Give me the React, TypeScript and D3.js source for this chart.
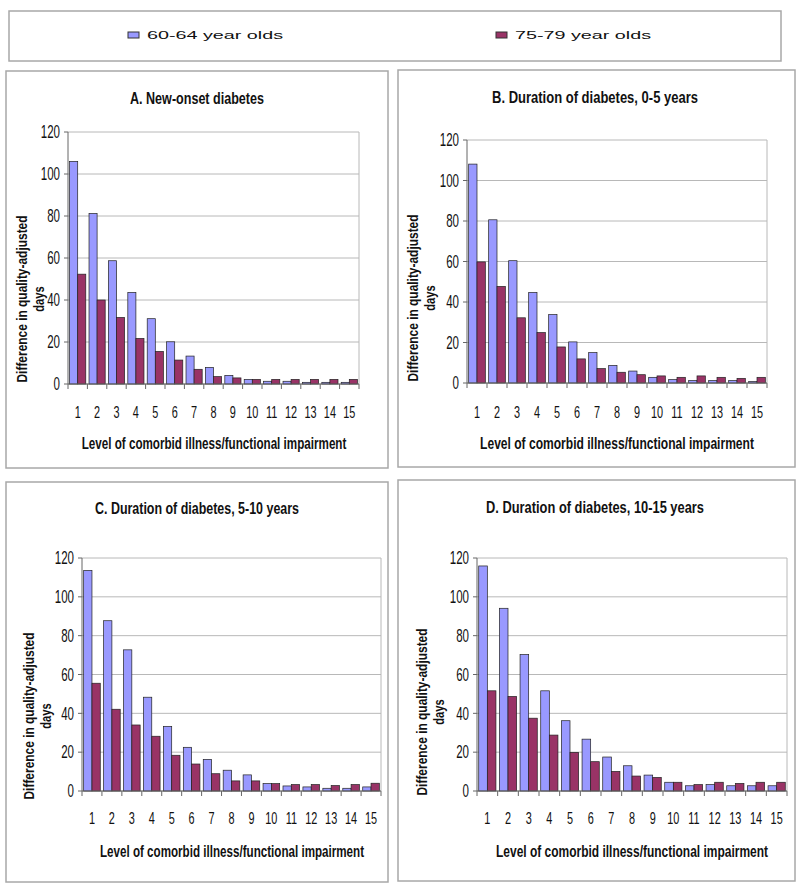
import React, { useLayoutEffect, useRef, useState } from "react";
import * as d3 from "d3";

const levels = ["1","2","3","4","5","6","7","8","9","10","11","12","13","14","15"];
const seriesNames = ["60-64 year olds", "75-79 year olds"];
const yTicks = [0, 20, 40, 60, 80, 100, 120];

const titleA = "A. New-onset diabetes";
const titleB = "B. Duration of diabetes, 0-5 years";
const titleC = "C. Duration of diabetes, 5-10 years";
const titleD = "D. Duration of diabetes, 10-15 years";
const xAxisTitle = "Level of comorbid illness/functional impairment";
const yAxisTitle1 = "Difference in quality-adjusted";
const yAxisTitle2 = "days";

const a6064 = [106, 81.2, 58.7, 43.6, 31.1, 20.1, 13.3, 7.9, 4.1, 2.2, 1.3, 1.3, 0.8, 0.8, 0.8];
const a7579 = [52.3, 40, 31.7, 21.7, 15.5, 11.4, 7, 3.5, 2.9, 2.2, 2.2, 2.2, 2.2, 2.2, 2.2];
const b6064 = [108.1, 80.6, 60.4, 44.7, 33.8, 20.3, 15, 8.7, 5.9, 2.8, 1.7, 1.2, 1.2, 1.2, 0.7];
const b7579 = [59.8, 47.7, 32.2, 24.9, 17.8, 11.9, 7.1, 5.3, 4.1, 3.5, 2.8, 3.5, 2.8, 2.3, 2.8];
const c6064 = [113.6, 87.7, 72.7, 48.3, 33.3, 22.5, 16.3, 10.7, 8.3, 3.8, 2.6, 2.1, 1.4, 1.4, 2.1];
const c7579 = [55.5, 42.1, 34, 28.2, 18.4, 13.9, 8.9, 5.2, 5.2, 3.8, 3.3, 3.3, 2.8, 3.3, 4];
const d6064 = [115.9, 94.1, 70.3, 51.6, 36.2, 26.7, 17.5, 13, 8.2, 4.5, 2.7, 3.3, 2.7, 2.7, 2.7];
const d7579 = [51.6, 48.7, 37.5, 28.8, 19.9, 15.1, 10.1, 7.7, 7, 4.5, 3.3, 4.5, 3.9, 4.5, 4.5];

const COLORS = ["#9999FF", "#993366"];
const SANS = "'Liberation Sans', Arial, sans-serif";

function NText({ x, y, anchor, size, sx, children, bold, rotate }: any) {
  return (
    <text transform={`translate(${x},${y})${rotate ? " rotate(-90)" : ""} scale(${sx},1)`} dy="0.36em" textAnchor={anchor}
      fontFamily={SANS} fontSize={size} fontWeight={bold ? "bold" : "normal"} fill="#111">{children}</text>
  );
}

// Text squeezed/stretched horizontally to a target width (measured after layout).
function FitText({ x, y, width, size, bold, anchor = "middle", rotate = false, children }: any) {
  const ref = useRef<SVGTextElement>(null);
  const [sx, setSx] = useState(0.65);
  useLayoutEffect(() => {
    if (ref.current) {
      const w = ref.current.getComputedTextLength();
      if (w > 0) setSx(width / w);
    }
  }, [width, children]);
  return (
    <text ref={ref} transform={`translate(${x},${y})${rotate ? " rotate(-90)" : ""} scale(${sx},1)`} dy="0.36em"
      textAnchor={anchor} fontFamily={SANS} fontSize={size} fontWeight={bold ? "bold" : "normal"} fill="#111">{children}</text>
  );
}

type Layout = {
  box: [number, number, number, number];
  left: number; right: number; top: number; bottom: number;
  title: [number, number]; titleLen: number;
  xLabelY: number; xTitle: [number, number]; xTitleLen: number;
  yTitleY: number; yTitleX1: number; yTitleX2: number;
};

function Panel({ title, s1, s2, L }: { title: string; s1: number[]; s2: number[]; L: Layout }) {
  const x = d3.scaleBand<string>().domain(levels).range([L.left, L.right]).paddingInner(0).paddingOuter(0);
  const y = d3.scaleLinear().domain([0, 120]).range([L.bottom, L.top]);
  const inner = d3.scaleBand<number>().domain([0, 1]).range([0, x.bandwidth()]).paddingOuter(0.2).paddingInner(0);
  const [bx, by, bx2, by2] = L.box;
  return (
    <g>
      <rect x={bx} y={by} width={bx2 - bx} height={by2 - by} fill="#fff" stroke="#a8a8a8" strokeWidth={1.5} />
      {yTicks.map((t) => (
        <line key={"g" + t} x1={L.left} x2={L.right} y1={y(t)} y2={y(t)} stroke="#b8b8b8" strokeWidth={1} />
      ))}
      <line x1={L.right} x2={L.right} y1={L.top} y2={L.bottom} stroke="#b8b8b8" strokeWidth={1} />
      {levels.map((lv, i) => (
        <g key={"b" + lv}>
          {[s1[i], s2[i]].map((v, k) => (
            <rect key={k} x={(x(lv) as number) + (inner(k) as number)} y={y(v)} width={inner.bandwidth()}
              height={y(0) - y(v)} fill={COLORS[k]} stroke="#222" strokeWidth={0.7} />
          ))}
        </g>
      ))}
      <line x1={L.left} x2={L.left} y1={L.top} y2={L.bottom} stroke="#666" strokeWidth={1} />
      {yTicks.map((t) => (
        <g key={"t" + t}>
          <line x1={L.left - 4} x2={L.left} y1={y(t)} y2={y(t)} stroke="#666" />
          <NText x={L.left - 8} y={y(t)} anchor="end" size={17.5} sx={0.66}>{t}</NText>
        </g>
      ))}
      <line x1={L.left} x2={L.right} y1={L.bottom} y2={L.bottom} stroke="#666" strokeWidth={1} />
      {levels.map((lv) => (
        <line key={"xt" + lv} x1={x(lv) as number} x2={x(lv) as number} y1={L.bottom} y2={L.bottom + 5} stroke="#666" />
      ))}
      <line x1={L.right} x2={L.right} y1={L.bottom} y2={L.bottom + 5} stroke="#666" />
      {levels.map((lv) => (
        <NText key={"xl" + lv} x={(x(lv) as number) + x.bandwidth() / 2} y={L.xLabelY} anchor="middle" size={16.5} sx={0.66}>{lv}</NText>
      ))}
      <FitText x={L.title[0]} y={L.title[1]} width={L.titleLen} size={17} bold>{title}</FitText>
      <FitText x={L.xTitle[0]} y={L.xTitle[1]} width={L.xTitleLen} size={16.5} bold>{xAxisTitle}</FitText>
      <FitText x={L.yTitleX1} y={L.yTitleY} width={167} size={15.5} bold rotate>{yAxisTitle1}</FitText>
      <NText x={L.yTitleX2} y={L.yTitleY} anchor="middle" size={15.5} sx={0.72} bold rotate>{yAxisTitle2}</NText>
    </g>
  );
}

const layouts: Layout[] = [
  { box: [6, 71, 388, 468], left: 68, right: 359, top: 132, bottom: 384, title: [197, 98], titleLen: 134,
    xLabelY: 412, xTitle: [214, 443], xTitleLen: 265, yTitleY: 299, yTitleX1: 21, yTitleX2: 38 },
  { box: [398, 70, 795, 467], left: 467, right: 767, top: 140, bottom: 383, title: [595, 97], titleLen: 206,
    xLabelY: 412, xTitle: [617, 443], xTitleLen: 274, yTitleY: 298, yTitleX1: 412, yTitleX2: 429 },
  { box: [6, 482, 388, 882], left: 82, right: 381, top: 558, bottom: 791, title: [197, 508], titleLen: 204,
    xLabelY: 818, xTitle: [232, 851], xTitleLen: 264, yTitleY: 716, yTitleX1: 28, yTitleX2: 45 },
  { box: [398, 480, 795, 881], left: 477, right: 787, top: 558, bottom: 791, title: [595, 507], titleLen: 218,
    xLabelY: 818, xTitle: [632, 851], xTitleLen: 272, yTitleY: 712, yTitleX1: 421, yTitleX2: 438 },
];

export default function App() {
  const panels = [
    { title: titleA, s1: a6064, s2: a7579 },
    { title: titleB, s1: b6064, s2: b7579 },
    { title: titleC, s1: c6064, s2: c7579 },
    { title: titleD, s1: d6064, s2: d7579 },
  ];
  const legendX = [128, 496];
  return (
    <svg width={800} height={885} style={{ position: "absolute", left: 0, top: 0, background: "#fff" }}>
      <rect x={0} y={0} width={800} height={885} fill="#fff" />
      <rect x={9} y={11} width={772} height={50} fill="#fff" stroke="#a8a8a8" strokeWidth={1.5} />
      {seriesNames.map((n, k) => (
        <g key={n}>
          <rect x={legendX[k]} y={32} width={11} height={6} fill={COLORS[k]} stroke="#333" strokeWidth={1} />
          <FitText x={legendX[k] + 19} y={35} width={136} size={11} anchor="start">{n}</FitText>
        </g>
      ))}
      {panels.map((p, i) => (
        <Panel key={i} title={p.title} s1={p.s1} s2={p.s2} L={layouts[i]} />
      ))}
    </svg>
  );
}
